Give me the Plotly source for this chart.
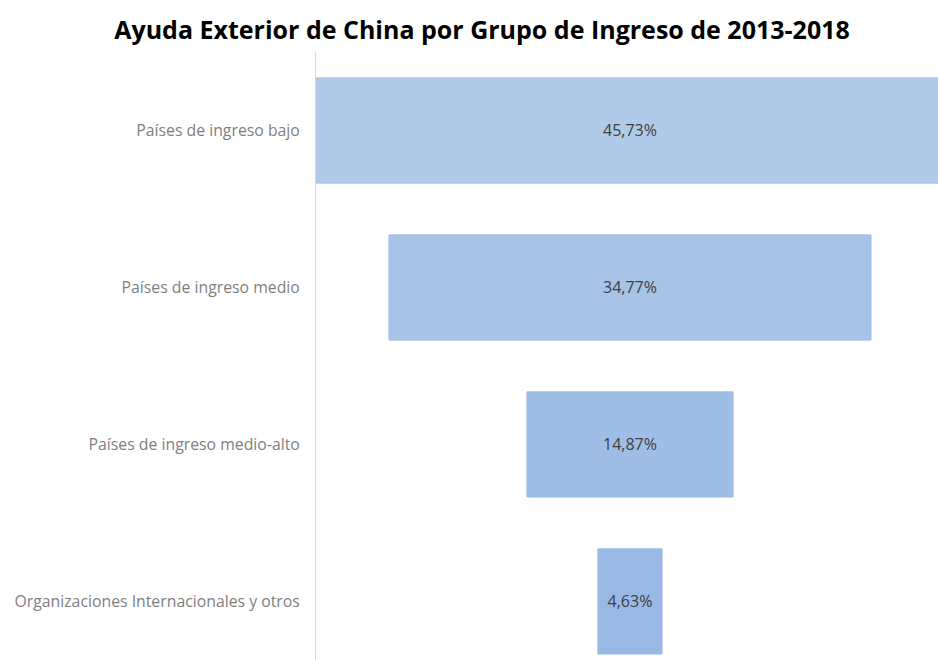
import plotly.graph_objects as go

# Data
categorias = [
    "Países de ingreso bajo",
    "Países de ingreso medio",
    "Países de ingreso medio-alto",
    "Organizaciones Internacionales y otros",
]
porcentajes = [45.73, 34.77, 14.87, 4.63]
etiquetas = ["45,73%", "34,77%", "14,87%", "4,63%"]

colores = ["#b0cae9", "#a7c3e6", "#9fbee5", "#97b9e3"]

fig = go.Figure()

fig.add_trace(
    go.Funnel(
        y=categorias,
        x=porcentajes,
        text=etiquetas,
        textinfo="text",
        textposition="inside",
        insidetextfont=dict(family="Open Sans", size=16, color="#404040"),
        marker=dict(color=colores, line=dict(color="#9dbce3", width=1)),
        connector=dict(visible=False),
        hoverinfo="y+text",
    )
)

fig.update_layout(
    width=938,
    height=660,
    margin=dict(l=316, r=0, t=52, b=0),
    paper_bgcolor="white",
    plot_bgcolor="white",
    funnelgap=0.33,
    showlegend=False,
    title=dict(
        text="<b>Ayuda Exterior de China por Grupo de Ingreso de 2013-2018</b>",
        font=dict(family="Open Sans", size=25, color="#000000"),
        x=482 / 938,
        xanchor="center",
        y=1 - 30 / 660,
        yanchor="middle",
    ),
    xaxis=dict(
        visible=False,
        range=[-22.65, 22.22],
    ),
    yaxis=dict(
        range=[3.373, -0.5],
        showline=True,
        linecolor="#d9d9d9",
        linewidth=1,
        showgrid=False,
        ticks="",
        ticklabelstandoff=12,
        tickfont=dict(family="Open Sans", size=15.8, color="#7f7f7f"),
    ),
)

# drop the default page margin so the figure fills the window exactly
fig.write_html(
    "out.html",
    config={"displayModeBar": False},
    post_script="document.body.style.margin='0';document.body.style.overflow='hidden';",
)
